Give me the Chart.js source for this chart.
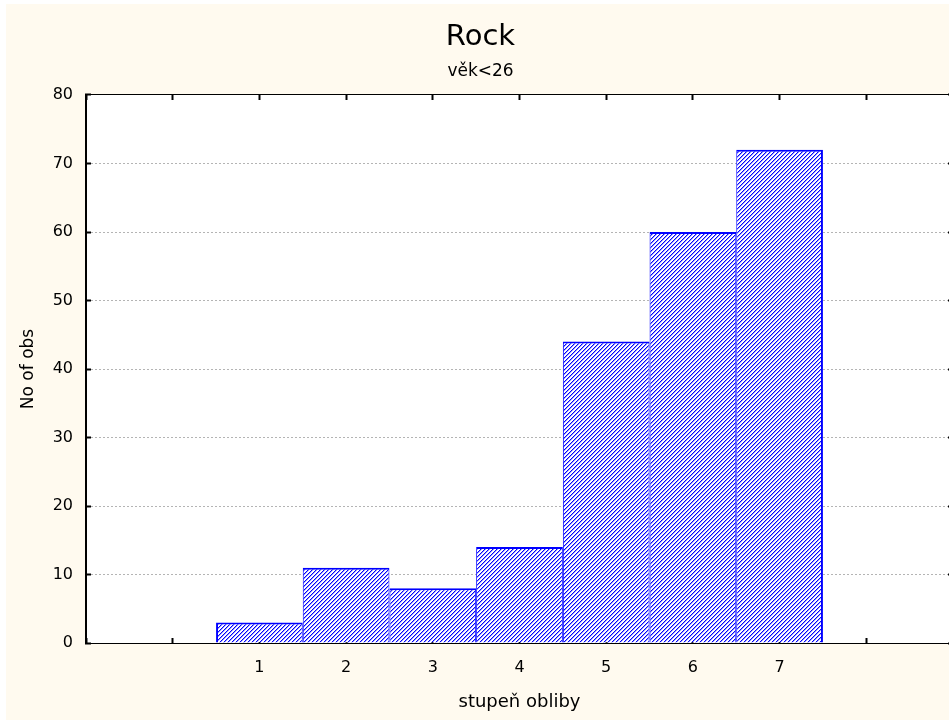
<!DOCTYPE html>
<html>
<head>
<meta charset="utf-8">
<script src="https://cdn.jsdelivr.net/npm/chart.js@4"></script>
<style>
  html, body { margin: 0; padding: 0; background: #fff; overflow: hidden; }
  #wrap { position: absolute; left: 6px; top: 4px; width: 949px; height: 716px; background: #fffaef; }
</style>
</head>
<body>
<div id="wrap"><canvas id="rockChart" width="949" height="716"></canvas></div>
<script>
const categories = [1, 2, 3, 4, 5, 6, 7];
const counts = [3, 11, 8, 14, 44, 60, 72];
const tickLabels = ['1', '2', '3', '4', '5', '6', '7'];

const FONT = "'DejaVu Sans', Verdana, sans-serif";

// blue hatch like the original statistica fill
function makeHatch() {
    const c = document.createElement('canvas');
    c.width = 4;
    c.height = 4;
    const g = c.getContext('2d');
    g.fillStyle = '#ffffff';
    g.fillRect(0, 0, 4, 4);
    for (let y = 0; y < 4; y++) {
        for (let x = 0; x < 4; x++) {
            const d = (x + y) % 4;
            if (d === 3) {
                g.fillStyle = '#0000ff';
                g.fillRect(x, y, 1, 1);
            } else if (d === 0) {
                g.fillStyle = '#9c9cff';
                g.fillRect(x, y, 1, 1);
            }
        }
    }
    return g.createPattern(c, 'repeat');
}

const whiteArea = {
    id: 'whiteArea',
    beforeDraw(chart) {
        const a = chart.chartArea;
        chart.ctx.save();
        chart.ctx.fillStyle = '#ffffff';
        chart.ctx.fillRect(a.left, a.top, a.right - a.left, a.bottom - a.top);
        chart.ctx.restore();
    }
};

function noSidePadding(scale) {
    scale.paddingLeft = 0;
    scale.paddingRight = 0;
}

const ctx = document.getElementById('rockChart').getContext('2d');
const rockChart = new Chart(ctx, {
    type: 'bar',
    data: {
        datasets: [{
            label: 'No of obs',
            data: categories.map((c, i) => ({ x: c, y: counts[i] })),
            backgroundColor: makeHatch(),
            borderColor: '#0000ff',
            borderWidth: function(context) {
                const last = categories.length - 1;
                return {
                    top: 2,
                    left: context.dataIndex === 0 ? 2 : 1,
                    right: context.dataIndex === last ? 2 : 1,
                    bottom: 0
                };
            },
            borderSkipped: false,
            inflateAmount: 0,
            barPercentage: 1,
            categoryPercentage: 1
        }]
    },
    plugins: [whiteArea],
    options: {
        responsive: false,
        animation: false,
        layout: { padding: 0 },
        scales: {
            x: {
                type: 'linear',
                position: 'bottom',
                min: -1,
                max: 9,
                offset: false,
                z: 1,
                afterFit(scale) { scale.height = 77; noSidePadding(scale); },
                grid: { offset: false, drawOnChartArea: false, tickLength: -5, tickWidth: 2, tickColor: '#000' },
                border: { color: '#000', width: 1 },
                ticks: {
                    stepSize: 1,
                    autoSkip: false,
                    padding: 20,
                    color: '#000',
                    font: { family: FONT, size: 16 },
                    callback: function(value) {
                        const i = categories.indexOf(value);
                        return i > -1 ? tickLabels[i] : '';
                    }
                },
                title: {
                    display: true,
                    text: 'stupeň obliby',
                    color: '#000',
                    font: { family: FONT, size: 18 },
                    padding: { top: 0, bottom: 7 }
                }
            },
            x2: {
                type: 'linear',
                position: 'top',
                min: -1,
                max: 9,
                offset: false,
                z: 1,
                afterFit(scale) { scale.height = 12.8; noSidePadding(scale); },
                grid: { offset: false, drawOnChartArea: false, tickLength: -5, tickWidth: 2, tickColor: '#000' },
                border: { color: '#000', width: 1 },
                ticks: { stepSize: 1, autoSkip: false, display: false, padding: 0 }
            },
            y: {
                position: 'left',
                min: 0,
                max: 80,
                afterFit(scale) { scale.width = 80; },
                grid: { color: '#b4b4b4', lineWidth: 1, tickLength: -5, tickWidth: 2, tickColor: '#000' },
                border: { color: '#000', width: 2, dash: [2, 2] },
                ticks: {
                    stepSize: 10,
                    padding: 18,
                    color: '#000',
                    font: { family: FONT, size: 16 }
                },
                title: {
                    display: true,
                    text: 'No of obs',
                    color: '#000',
                    font: { family: FONT, size: 17 },
                    padding: { top: 12, bottom: 0 }
                }
            },
            y2: {
                position: 'right',
                min: 0,
                max: 80,
                afterFit(scale) { scale.width = 2; },
                grid: { drawOnChartArea: false, tickLength: -5, tickWidth: 2, tickColor: '#000' },
                border: { color: '#000', width: 1 },
                ticks: { stepSize: 10, display: false }
            }
        },
        plugins: {
            legend: { display: false },
            tooltip: { enabled: false },
            title: {
                display: true,
                text: 'Rock',
                color: '#000',
                font: { family: FONT, size: 29, weight: 'normal' },
                padding: { top: 16, bottom: 0 }
            },
            subtitle: {
                display: true,
                text: 'věk<26',
                color: '#000',
                font: { family: FONT, size: 17, weight: 'normal' },
                padding: { top: 7, bottom: 0 }
            }
        }
    }
});
</script>
</body>
</html>
